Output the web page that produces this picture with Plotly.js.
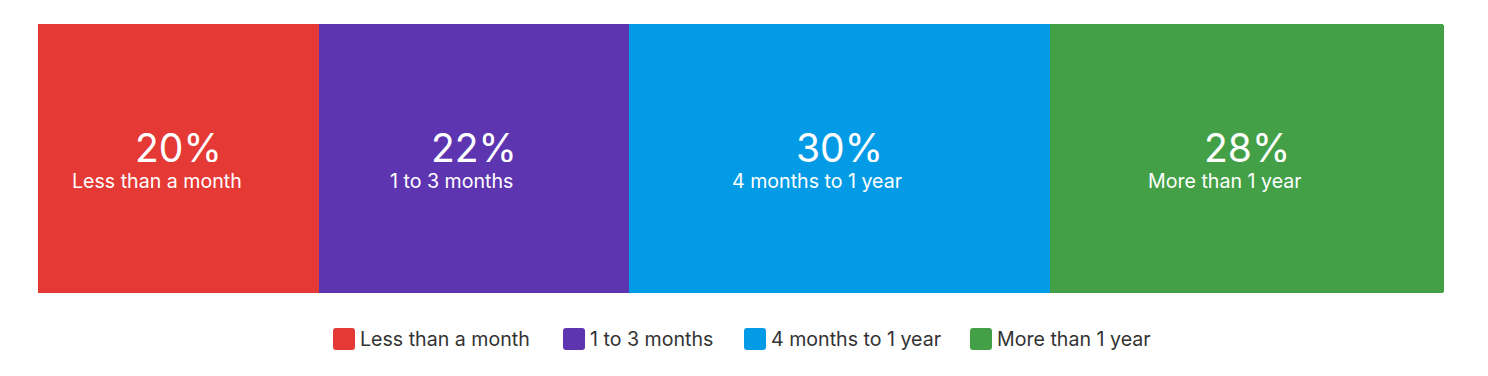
<!DOCTYPE html>
<html><head><meta charset="utf-8">
<script src="https://cdn.plot.ly/plotly-3.0.1.min.js"></script>
<style>html,body{margin:0;padding:0;background:#fff}#chart{width:1488px;height:376px}</style>
</head><body><div id="chart"></div>
<script>
const categories = ['Less than a month', '1 to 3 months', '4 months to 1 year', 'More than 1 year'];
const values = [20, 22, 30, 28];
const colors = ['#E53935', '#5E35B1', '#039BE5', '#43A047'];

const W = 1488, H = 376;
const M = {l: 38, r: 44, t: 24, b: 83};
const plotW = W - M.l - M.r, plotH = H - M.t - M.b;
const FONT = 'Inter, Roboto, sans-serif';

const traces = categories.map((c, i) => ({
  type: 'bar', orientation: 'h', name: c,
  x: [values[i]], y: ['all'],
  marker: {color: colors[i], line: {width: 0}},
  hoverinfo: 'none', showlegend: false
}));

const annotations = [];
let cum = 0;
categories.forEach((c, i) => {
  const mid = cum + values[i] / 2;
  cum += values[i];
  annotations.push({x: mid, y: 'all', xref: 'x', yref: 'y', text: values[i] + '%', showarrow: false,
    font: {family: FONT, size: 39, color: '#ffffff'}, yshift: 12, height: 30, valign: 'middle'});
  annotations.push({x: mid, y: 'all', xref: 'x', yref: 'y', text: c, showarrow: false,
    font: {family: FONT, size: 19.6, color: '#ffffff'}, xshift: -22, yshift: -22, height: 23, valign: 'middle'});
});

// legend built from shapes + text
const legendLeft = [333, 563, 744, 970];
const legendY = 339;
const shapes = [];
const py = p => (H - M.b - p) / plotH;
const px = p => (p - M.l) / plotW;
categories.forEach((c, i) => {
  shapes.push({type: 'path', xref: 'paper', yref: 'paper', xsizemode: 'pixel', ysizemode: 'pixel',
    xanchor: px(legendLeft[i]), yanchor: py(legendY),
    path: 'M3,-11 L19,-11 Q22,-11 22,-8 L22,8 Q22,11 19,11 L3,11 Q0,11 0,8 L0,-8 Q0,-11 3,-11 Z',
    fillcolor: colors[i], line: {width: 0}});
  annotations.push({x: px(legendLeft[i] + 25), y: py(legendY), xref: 'paper', yref: 'paper',
    xanchor: 'left', yanchor: 'middle', text: c, showarrow: false,
    font: {family: FONT, size: 19.6, color: '#333333'}});
});

const layout = {
  width: W, height: H,
  margin: M,
  paper_bgcolor: '#ffffff', plot_bgcolor: '#ffffff',
  barmode: 'stack', bargap: 0, barcornerradius: 3,
  xaxis: {range: [0, 100], visible: false, fixedrange: true},
  yaxis: {range: [-0.5, 0.5], visible: false, fixedrange: true},
  showlegend: false,
  annotations: annotations, shapes: shapes
};
Plotly.newPlot('chart', traces, layout, {displayModeBar: false, staticPlot: true});
</script></body></html>
